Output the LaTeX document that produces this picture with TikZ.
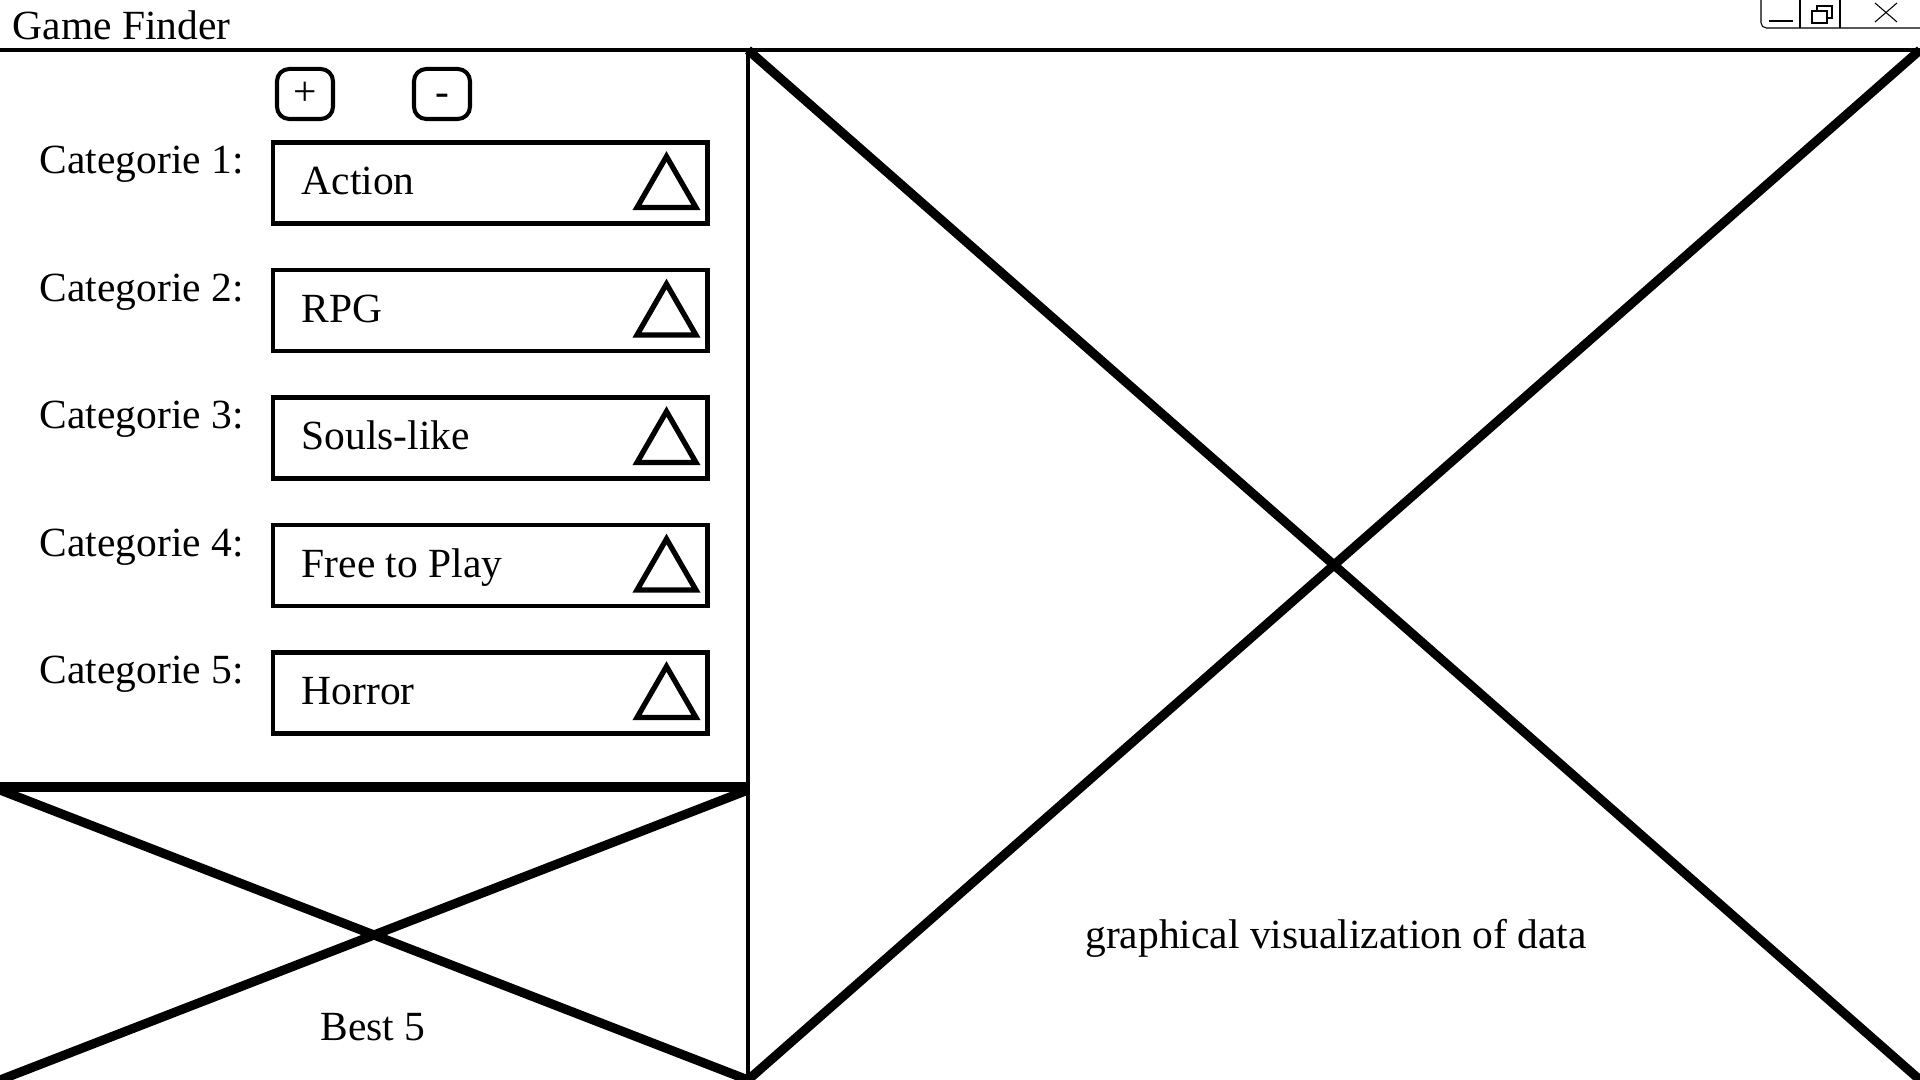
\documentclass[tikz,border=0pt]{standalone}
\usepackage{fontspec}
\setmainfont{Liberation Serif}
\usetikzlibrary{shapes.geometric}
\begin{document}
\begin{tikzpicture}[x=0.01cm,y=-0.01cm,font=\fontsize{11.8}{14}\selectfont]
    \tikzstyle{liste}=[draw,line width=1.35pt,minimum width=4.34cm,minimum height=0.81cm,inner sep=0]
    \tikzstyle{fleche}=[regular polygon,regular polygon sides=3,draw,line width=1.5pt,inner sep=0,minimum size=0.68cm]
    \tikzstyle{bouton}=[draw,line width=1.15pt,rounded corners=3.5pt,minimum width=0.56cm,minimum height=0.50cm,inner sep=0]
    \tikzstyle{texte}=[anchor=base west,inner sep=0]
    \tikzset{croix/.style = {line width=2.6pt}}
    \tikzset{fin/.style = {line width=0.3pt}}
    \useasboundingbox (0,0) rectangle (1920,1080);
    % barre de titre
    \node[texte] (titre) at (12,40) {Game Finder};
    \coordinate (hg) at (0,50);
    \coordinate (hd) at (1920,50);
    \draw[line width=1.05pt] (hg) -- (hd);
    \draw[fin,rounded corners=1.5pt] (1761,-5) -- (1761,28) -- (1930,28);
    \draw[fin] (1800,-5) -- (1800,28);
    \draw[fin] (1840,-5) -- (1840,28);
    \draw[line width=0.6pt] (1769,21) -- (1793,21);
    \draw[fin] (1817,6) rectangle (1832,18);
    \draw[fin,fill=white] (1812,11) rectangle (1827,23);
    \draw[fin] (1875,3) -- (1897,22);
    \draw[fin] (1875,22) -- (1897,3);
    % cadres
    \coordinate (m) at (748,50);
    \coordinate (mb) at (748,1080);
    \coordinate (g) at (0,787);
    \coordinate (gh) at (0,790);
    \coordinate (gb) at (0,1080);
    \coordinate (mh) at (748,790);
    \coordinate (d) at (1920,50);
    \coordinate (db) at (1920,1080);
    \draw[line width=1.4pt] (m) -- (mb);
    \draw[line width=2.6pt] (g) -- (748,787);
    \draw[croix] (gh) -- (mb);
    \draw[croix] (gb) -- (mh);
    \draw[croix] (m) -- (db);
    \draw[croix] (d) -- (mb);
    % boutons
    \node[bouton] (plus) at (305,94) {+};
    \node[bouton] (moins) at (442,94) {-\vphantom{+}};
    % categories
    \node[texte] (c1) at (39,174) {Categorie 1:};
    \node[liste] (l1) at (490,183) {};
    \node[texte] (t1) at (301,195) {Action};
    \node[fleche] (f1) at (666.5,190.5) {};
    \node[texte] (c2) at (39,301.5) {Categorie 2:};
    \node[liste] (l2) at (490,310.5) {};
    \node[texte] (t2) at (301,322.5) {RPG};
    \node[fleche] (f2) at (666.5,318) {};
    \node[texte] (c3) at (39,429) {Categorie 3:};
    \node[liste] (l3) at (490,438) {};
    \node[texte] (t3) at (301,450) {Souls-like};
    \node[fleche] (f3) at (666.5,445.5) {};
    \node[texte] (c4) at (39,556.5) {Categorie 4:};
    \node[liste] (l4) at (490,565.5) {};
    \node[texte] (t4) at (301,577.5) {Free to Play};
    \node[fleche] (f4) at (666.5,573) {};
    \node[texte] (c5) at (39,684) {Categorie 5:};
    \node[liste] (l5) at (490,693) {};
    \node[texte] (t5) at (301,705) {Horror};
    \node[fleche] (f5) at (666.5,700.5) {};
    % legendes
    \node[anchor=base,inner sep=0] (best) at (373,1041) {Best 5};
    \node[anchor=base,inner sep=0] (graph) at (1336,949) {graphical visualization of data};
\end{tikzpicture}
\end{document}
